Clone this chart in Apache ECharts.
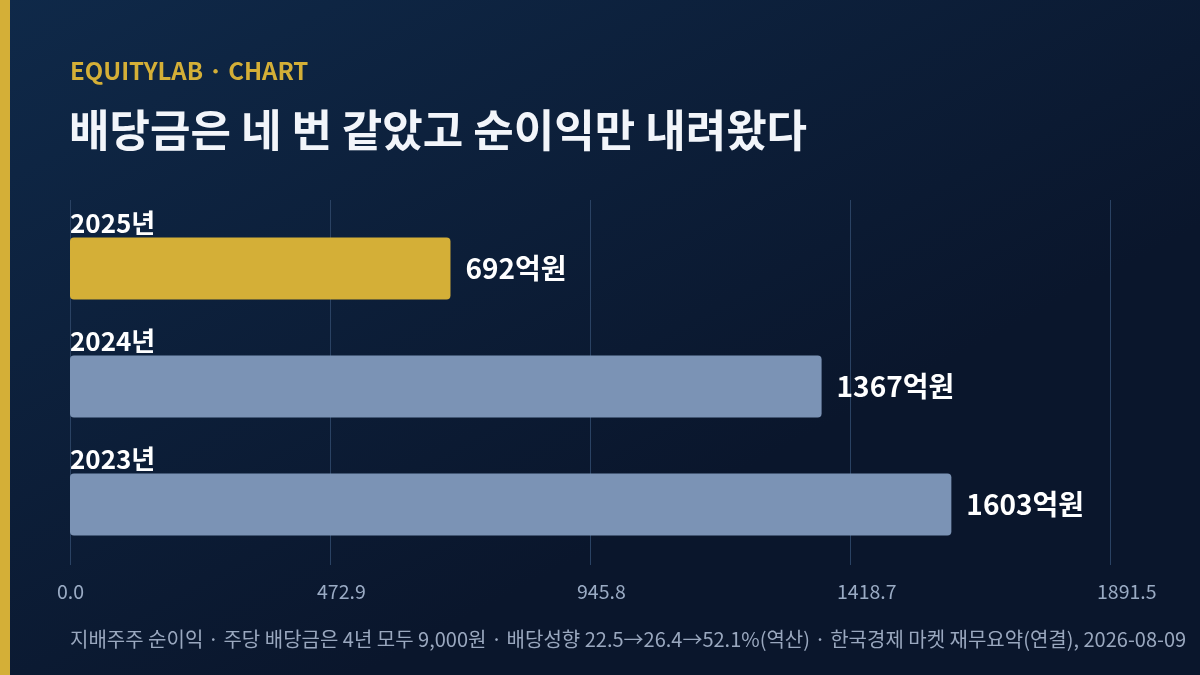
<!DOCTYPE html>
<html>
<head>
<meta charset="utf-8">
<script src="https://cdn.jsdelivr.net/npm/echarts@6/dist/echarts.min.js"></script>
<style>
  html, body { margin: 0; padding: 0; background: #0c1a33; }
  #chart { width: 1200px; height: 675px; }
</style>
</head>
<body>
<div id="chart"></div>
<script>
// 연도별 지배주주 순이익 (억원)
const years = ['2025년', '2024년', '2023년'];
const netIncome = [692, 1367, 1603];
const axisMax = 1891.54;          // 최대값 1603 x 1.18
const axisStep = axisMax / 4;
const barColors = ['#d4af37', '#7b93b5', '#7b93b5'];

const FONT = '"Noto Sans CJK KR", "Noto Sans", sans-serif';

const chart = echarts.init(document.getElementById('chart'));

var option = {
  backgroundColor: {
    type: 'linear', x: 0, y: 0, x2: 0.3, y2: 1,
    colorStops: [
      { offset: 0, color: '#0f2949' },
      { offset: 1, color: '#0a162c' }
    ]
  },
  textStyle: { fontFamily: FONT },
  title: [
    {
      text: 'EQUITYLAB · CHART',
      left: 70, top: 59, padding: 0,
      textStyle: { color: '#d4af37', fontSize: 24, fontWeight: 'bold', fontFamily: FONT }
    },
    {
      text: '배당금은 네 번 같았고 순이익만 내려왔다',
      left: 69, top: 108, padding: 0,
      textStyle: { color: '#f2f5fa', fontSize: 44, fontWeight: 'bold', fontFamily: FONT }
    },
    {
      text: '지배주주 순이익 · 주당 배당금은 4년 모두 9,000원 · 배당성향 22.5→26.4→52.1%(역산) · 한국경제 마켓 재무요약(연결), 2026-08-09',
      left: 70, top: 629, padding: 0,
      textStyle: { color: '#9aa8bf', fontSize: 20, fontWeight: 'normal', fontFamily: FONT }
    }
  ],
  graphic: [
    { type: 'rect', left: 0, top: 0, shape: { width: 10, height: 675 }, style: { fill: '#d4af37' } }
  ],
  grid: [
    // 눈금선/축 라벨용
    { left: 70, right: 90, top: 200, bottom: 110 },
    // 막대용
    { left: 70, right: 90, top: 209.5, height: 354 }
  ],
  xAxis: [
    {
      gridIndex: 0, type: 'value', min: 0, max: axisMax, interval: axisStep,
      axisLine: { show: false }, axisTick: { show: false },
      splitLine: { lineStyle: { color: '#2a4263', width: 1 } },
      axisLabel: {
        color: '#9aabc4', fontSize: 19.5, margin: 17, fontFamily: FONT,
        align: 'left', padding: [0, 0, 0, -13],
        formatter: function (v) { return v.toFixed(1); }
      }
    },
    {
      gridIndex: 1, type: 'value', min: 0, max: axisMax, interval: axisStep,
      show: false, splitLine: { show: false }
    }
  ],
  yAxis: [
    { gridIndex: 0, type: 'category', data: years, inverse: true, show: false },
    { gridIndex: 1, type: 'category', data: years, inverse: true, show: false }
  ],
  series: [
    {
      type: 'bar',
      xAxisIndex: 1, yAxisIndex: 1,
      barWidth: 62,
      barGap: '-100%',
      data: netIncome.map(function (v, i) {
        return { value: v, itemStyle: { color: barColors[i], borderRadius: 4 } };
      }),
      label: {
        show: true, position: 'right', distance: 15,
        color: '#ffffff', fontSize: 28, fontWeight: 'bold', fontFamily: FONT,
        formatter: function (p) { return p.value + '억원'; }
      },
      silent: true
    },
    {
      // 연도 라벨 (막대 위)
      type: 'bar',
      xAxisIndex: 1, yAxisIndex: 1,
      barWidth: 62,
      barGap: '-100%',
      data: netIncome,
      itemStyle: { color: 'rgba(0,0,0,0)' },
      label: {
        show: true, position: [0, -1], align: 'left', verticalAlign: 'bottom',
        color: '#ffffff', fontSize: 26, fontWeight: 'bold', fontFamily: FONT,
        formatter: function (p) { return p.name; }
      },
      silent: true
    }
  ]
};

chart.setOption(option);
</script>
</body>
</html>
